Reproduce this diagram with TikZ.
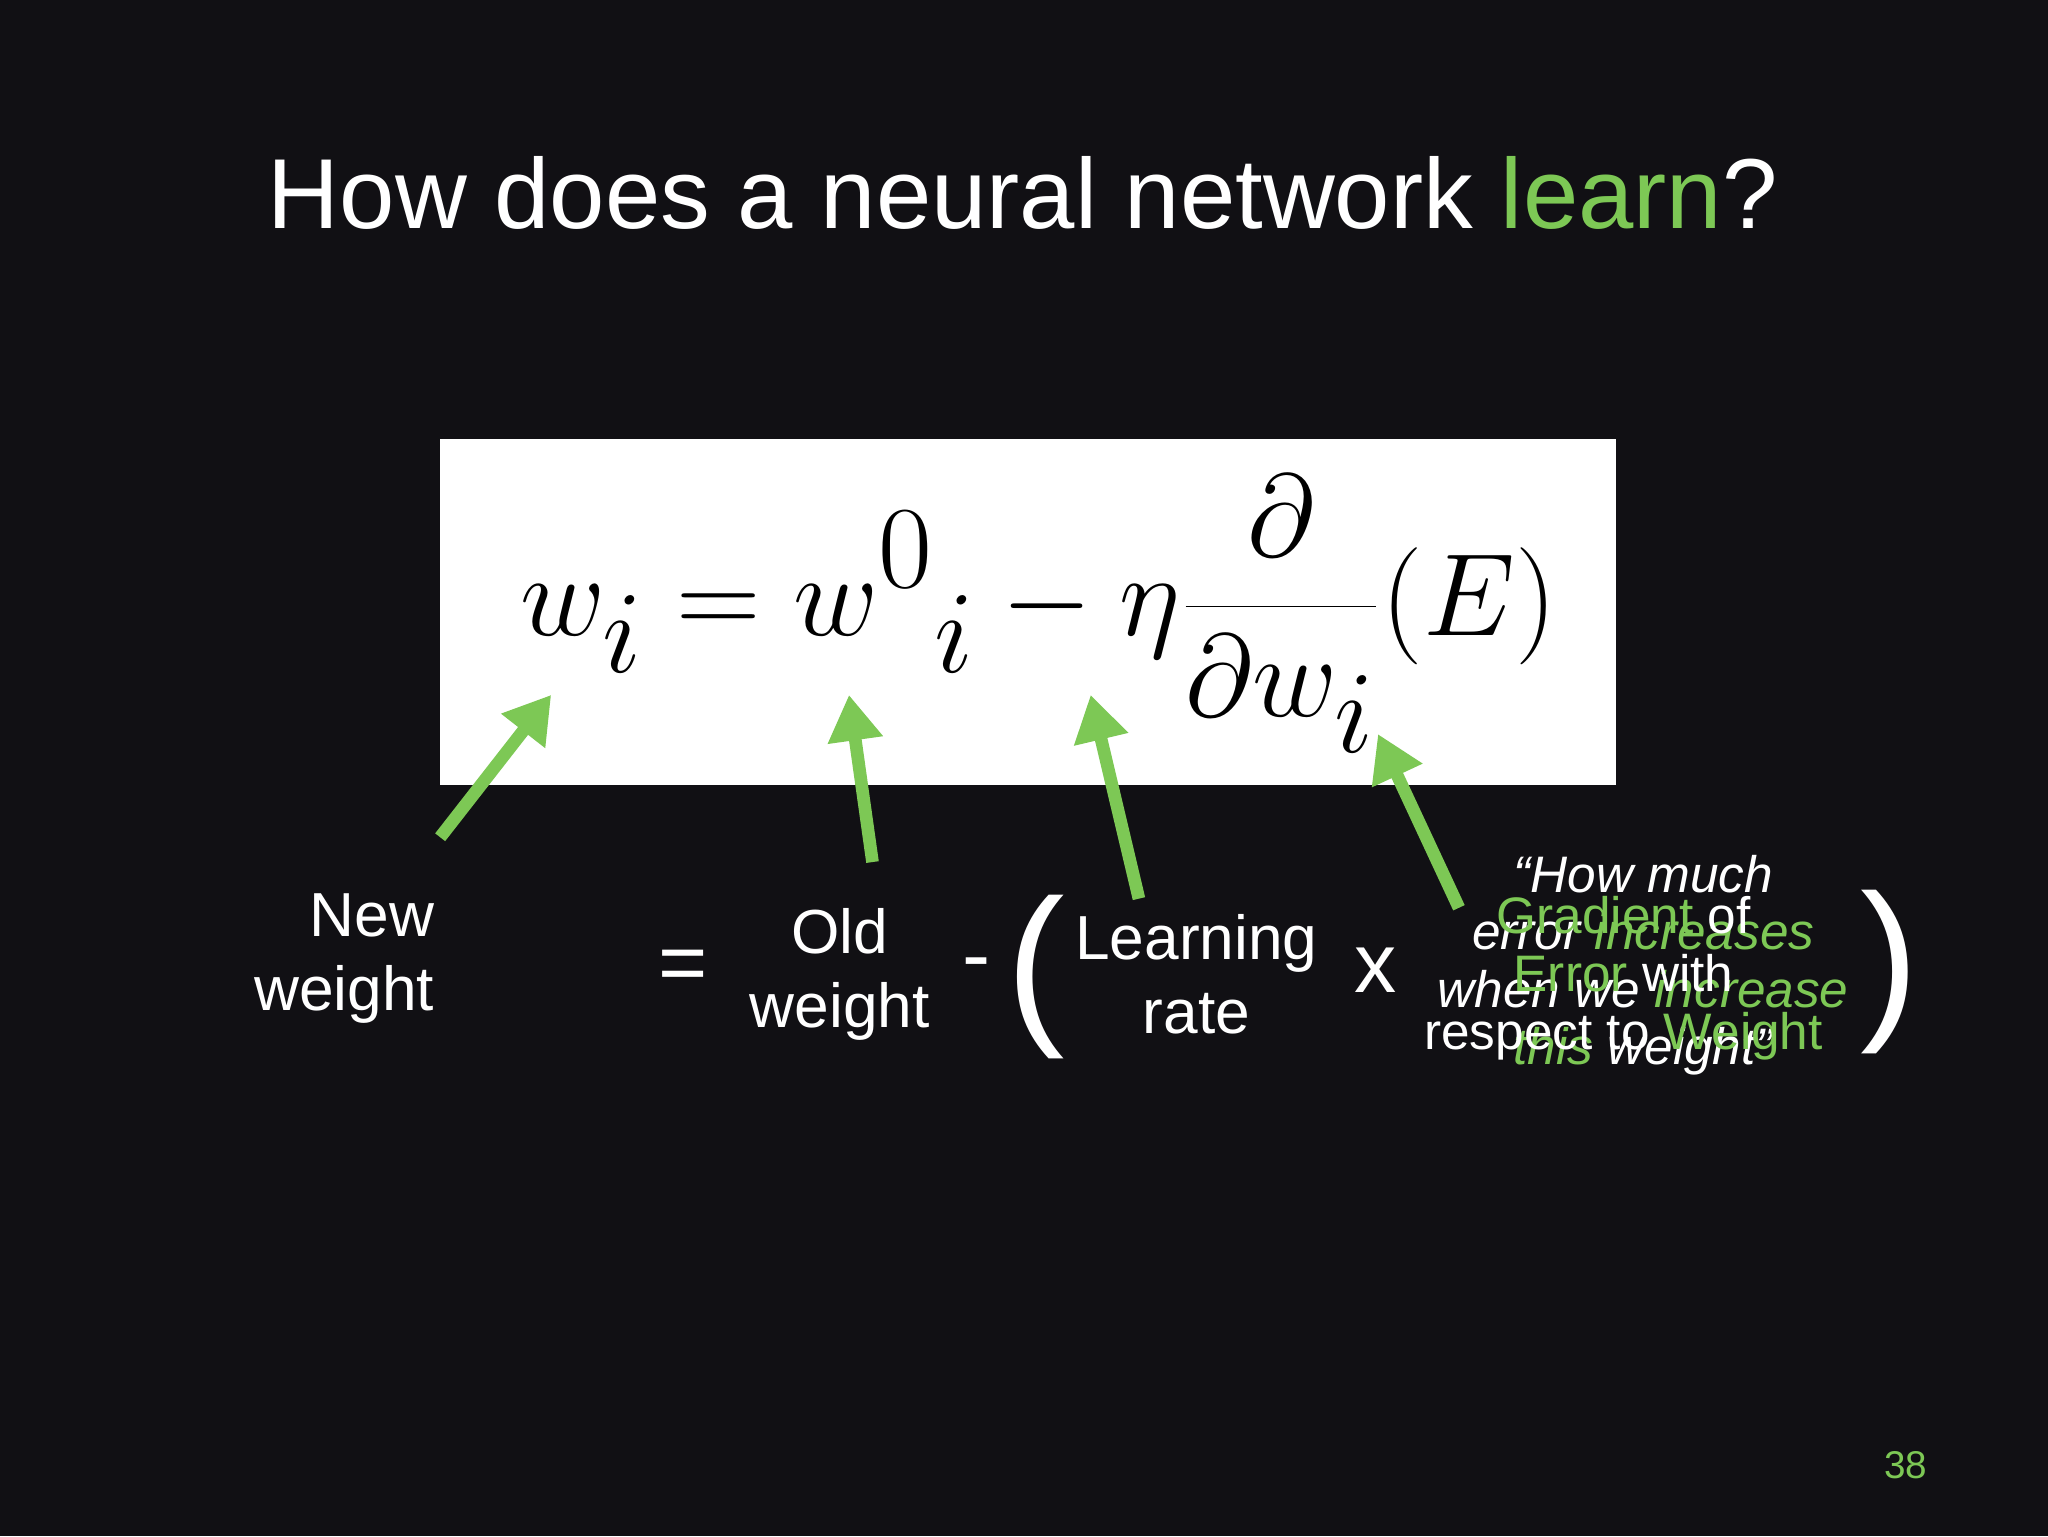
\documentclass[tikz,border=0pt]{standalone}
\usepackage{fontspec}
\setmainfont{Liberation Sans}
\usetikzlibrary{arrows.meta}
\definecolor{bg}{HTML}{111014}
\definecolor{gr}{HTML}{7DC855}
\begin{document}
\begin{tikzpicture}[x=0.1306mm,y=-0.1306mm,
  lbl/.style={text=white,font=\fontsize{17.7}{21}\selectfont,align=center,inner sep=0},
  ital/.style={font=\fontsize{14.6}{16.4}\selectfont\itshape,align=center,inner sep=0},
  upr/.style={font=\fontsize{14.6}{16.4}\selectfont,align=center,inner sep=0},
  garrow/.style={gr,line width=3.6pt,-{Triangle[length=13pt,width=15pt]}}]
\fill[bg] (0,0) rectangle (1568,1176);
\useasboundingbox (0,0) rectangle (1568,1176);
\node[text=white,font=\fontsize{28.3}{31}\selectfont,inner sep=0] (title) at (783,148) {How does a neural network \textcolor{gr}{learn}?};
\fill[white] (337,336) rectangle (1237,601);
\node[inner sep=0] (eq) at (795,470) {\scalebox{1.34}{\fontsize{62}{70}\selectfont$\displaystyle w_i = w^0{}_i - \eta\frac{\partial}{\partial w_i}(E)$}};
\coordinate (a1s) at (337,641); \coordinate (a1e) at (422,532);
\coordinate (a2s) at (668,660); \coordinate (a2e) at (650,532);
\coordinate (a3s) at (872,688); \coordinate (a3e) at (835,532);
\coordinate (a4s) at (1117,695); \coordinate (a4e) at (1055,562);
\draw[garrow] (a1s) -- (a1e);
\draw[garrow] (a2s) -- (a2e);
\draw[garrow] (a3s) -- (a3e);
\draw[garrow] (a4s) -- (a4e);
\node[lbl,align=right,anchor=east] (new) at (333,734) {New\\weight};
\node[lbl,font=\fontsize{24}{26}\selectfont] (eqs) at (523,743) {=};
\node[lbl] (old) at (643,746) {Old\\weight};
\node[lbl,font=\fontsize{24}{26}\selectfont] (minus) at (748,743) {-};
\node[lbl,font=\fontsize{50}{54}\selectfont] (lp) at (793,748) {(};
\node[lbl] (lr) at (916,746) {Learning\\rate};
\node[lbl,font=\fontsize{24}{26}\selectfont] (times) at (1053,743) {x};
\node[lbl,font=\fontsize{50}{54}\selectfont] (rp) at (1447,744) {)};
\node[ital,text=white] (q) at (1258,739) {“How much\\error \textcolor{gr}{increases}\\when we \textcolor{gr}{increase}\\\textcolor{gr}{this} weight”};
\node[upr,text=white] (g) at (1243,749) {\textcolor{gr}{Gradient} of\\\textcolor{gr}{Error} with\\respect to \textcolor{gr}{Weight}};
\node[text=gr,font=\fontsize{11}{12}\selectfont,inner sep=0] (pg) at (1459,1122) {38};
\end{tikzpicture}
\end{document}
